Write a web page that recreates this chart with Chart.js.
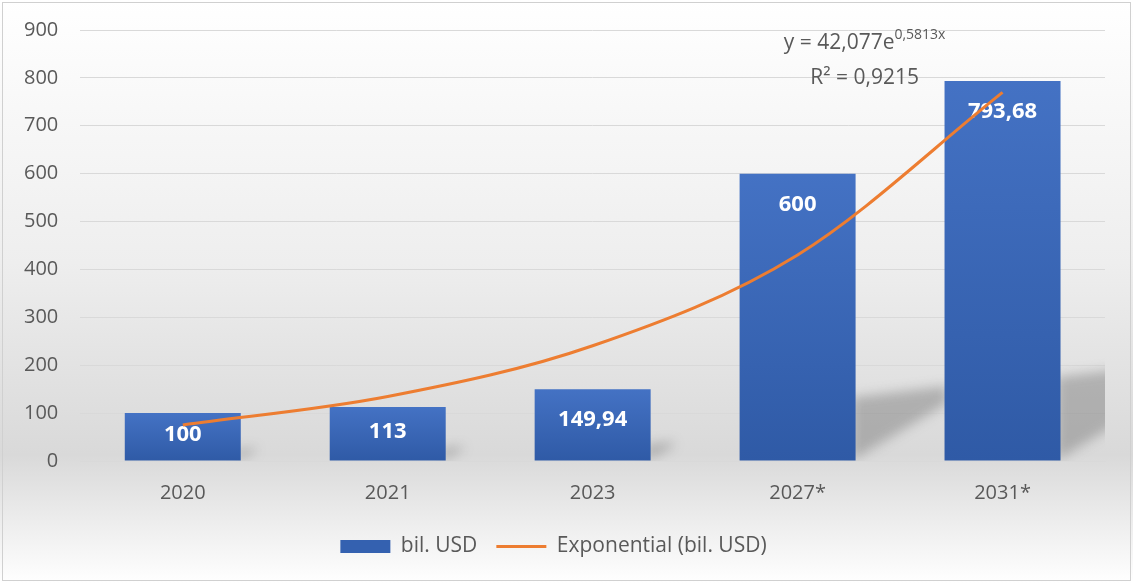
<!DOCTYPE html>
<html>
<head>
<meta charset="utf-8">
<script src="https://cdn.jsdelivr.net/npm/chart.js@4.4.1/dist/chart.umd.min.js"></script>
<style>
  html, body { margin: 0; padding: 0; background: #fff; }
  canvas { display: block; }
</style>
</head>
<body>
<canvas id="marketChart" width="1133" height="583"></canvas>
<script>
// market size, bil. USD (* = forecast)
const years = ['2020', '2021', '2023', '2027*', '2031*'];
const marketSize = [100, 113, 149.94, 600, 793.68];
// exponential trend y = 42,077e^(0,5813x) at x = 1..5
const trendValues = [75.3, 134.6, 240.6, 430.3, 769.6];
const yMin = 0;
const yMax = 900;
const yStep = 100;

const FONT = '"Open Sans", "Noto Sans", sans-serif';
const TEXT_GREY = '#595959';

// soft grey page background with a thin frame
const background = {
  id: 'background',
  beforeDraw(chart) {
    const { ctx, width, height } = chart;
    ctx.save();
    const g = ctx.createLinearGradient(0, 0, 0, height);
    g.addColorStop(0, '#ffffff');
    g.addColorStop(0.45, '#eeeeee');
    g.addColorStop(0.78, '#d9d9d9');
    g.addColorStop(1, '#ffffff');
    ctx.fillStyle = g;
    ctx.fillRect(0, 0, width, height);
    ctx.strokeStyle = '#d0d0d0';
    ctx.lineWidth = 1;
    ctx.strokeRect(2.5, 2.5, width - 5, height - 5);
    ctx.restore();
  }
};

// perspective shadows falling to the right of each bar
const barShadows = {
  id: 'barShadows',
  beforeDatasetsDraw(chart) {
    const meta = chart.getDatasetMeta(0);
    const { ctx, chartArea: area } = chart;
    ctx.save();
    ctx.beginPath();
    ctx.rect(area.left, area.top, area.right - area.left, area.bottom - area.top);
    ctx.clip();
    ctx.filter = 'blur(6px)';
    ctx.fillStyle = 'rgba(80, 80, 80, 0.33)';
    meta.data.forEach(bar => {
      const h = bar.base - bar.y;
      const r = bar.x + bar.width / 2;
      const b = bar.base;
      ctx.beginPath();
      ctx.moveTo(r - 4, b);
      ctx.lineTo(r - 4, b - 0.22 * h);
      ctx.lineTo(r + 0.32 * h, b - 0.26 * h);
      ctx.lineTo(r + 0.32 * h, b - 0.2 * h);
      ctx.closePath();
      ctx.fill();
    });
    ctx.restore();
  }
};

// white value labels inside the bars
const barLabels = {
  id: 'barLabels',
  afterDatasetDraw(chart, args) {
    if (args.index !== 0) return;
    const ctx = chart.ctx;
    ctx.save();
    ctx.font = 'bold 22px ' + FONT;
    ctx.fillStyle = '#ffffff';
    ctx.textAlign = 'center';
    ctx.textBaseline = 'middle';
    args.meta.data.forEach((bar, i) => {
      const y = Math.min(bar.y + 31, (bar.y + bar.base) / 2 - 2);
      ctx.fillText(String(marketSize[i]).replace('.', ','), bar.x, y);
    });
    ctx.restore();
  }
};

// trendline equation and R squared
const trendEquation = {
  id: 'trendEquation',
  afterDatasetsDraw(chart) {
    const { ctx, scales: { x, y } } = chart;
    const cx = x.getPixelForValue(3) + 67;
    const main = 'y = 42,077e';
    const sup = '0,5813x';
    ctx.save();
    ctx.fillStyle = TEXT_GREY;
    ctx.textBaseline = 'middle';
    ctx.font = '21px ' + FONT;
    const w1 = ctx.measureText(main).width;
    ctx.font = '14px ' + FONT;
    const w2 = ctx.measureText(sup).width;
    const left = cx - (w1 + w2) / 2;
    const y1 = y.getPixelForValue(872);
    ctx.textAlign = 'left';
    ctx.font = '21px ' + FONT;
    ctx.fillText(main, left, y1);
    ctx.font = '14px ' + FONT;
    ctx.fillText(sup, left + w1, y1 - 8);
    ctx.font = '21px ' + FONT;
    ctx.textAlign = 'center';
    ctx.fillText('R\u00B2 = 0,9215', cx, y.getPixelForValue(800));
    ctx.restore();
  }
};

function barGradient(context) {
  const chart = context.chart;
  const y = chart.scales.y;
  if (context.type !== 'data' || !y) return '#3a66b8';
  const top = y.getPixelForValue(marketSize[context.dataIndex]);
  const base = y.getPixelForValue(0);
  if (!isFinite(top) || !isFinite(base) || top === base) return '#3a66b8';
  const g = chart.ctx.createLinearGradient(0, top, 0, base);
  g.addColorStop(0, '#4472c4');
  g.addColorStop(1, '#2f5aa6');
  return g;
}

const ctx = document.getElementById('marketChart').getContext('2d');

new Chart(ctx, {
  type: 'bar',
  data: {
    labels: years,
    datasets: [
      {
        type: 'bar',
        label: 'bil. USD',
        data: marketSize,
        backgroundColor: barGradient,
        borderWidth: 0,
        categoryPercentage: 1,
        barPercentage: 0.566,
        order: 2
      },
      {
        type: 'line',
        label: 'Exponential (bil. USD)',
        data: trendValues,
        borderColor: '#ed7d31',
        backgroundColor: '#ed7d31',
        borderWidth: 3,
        pointRadius: 0,
        cubicInterpolationMode: 'monotone',
        fill: false,
        order: 1
      }
    ]
  },
  options: {
    responsive: false,
    animation: false,
    layout: { padding: { left: 2, right: 28, top: 30, bottom: 16 } },
    scales: {
      x: {
        grid: { display: false },
        border: { display: true, color: '#d9d9d9' },
        ticks: { color: TEXT_GREY, font: { family: FONT, size: 20 }, padding: 12 }
      },
      y: {
        min: yMin,
        max: yMax,
        border: { display: false },
        grid: { color: '#d9d9d9', drawTicks: false },
        ticks: { stepSize: yStep, color: TEXT_GREY, font: { family: FONT, size: 20 }, padding: 22 },
        // top padding comes from the layout option only
        afterFit: scale => { scale.paddingTop = 0; }
      }
    },
    plugins: {
      tooltip: { enabled: false },
      legend: {
        position: 'bottom',
        labels: {
          color: TEXT_GREY,
          font: { family: FONT, size: 21 },
          usePointStyle: true,
          pointStyleWidth: 50,
          boxWidth: 50,
          boxHeight: 13,
          padding: 19,
          sort: (a, b) => a.datasetIndex - b.datasetIndex,
          generateLabels: chart =>
            Chart.defaults.plugins.legend.labels.generateLabels(chart).map(item => {
              const isBar = item.datasetIndex === 0;
              return Object.assign(item, {
                pointStyle: isBar ? 'rect' : 'line',
                fillStyle: isBar ? '#3461b0' : '#ed7d31',
                strokeStyle: isBar ? '#3461b0' : '#ed7d31',
                lineWidth: isBar ? 0 : 3
              });
            })
        }
      }
    }
  },
  plugins: [background, barShadows, barLabels, trendEquation]
});
</script>
</body>
</html>
